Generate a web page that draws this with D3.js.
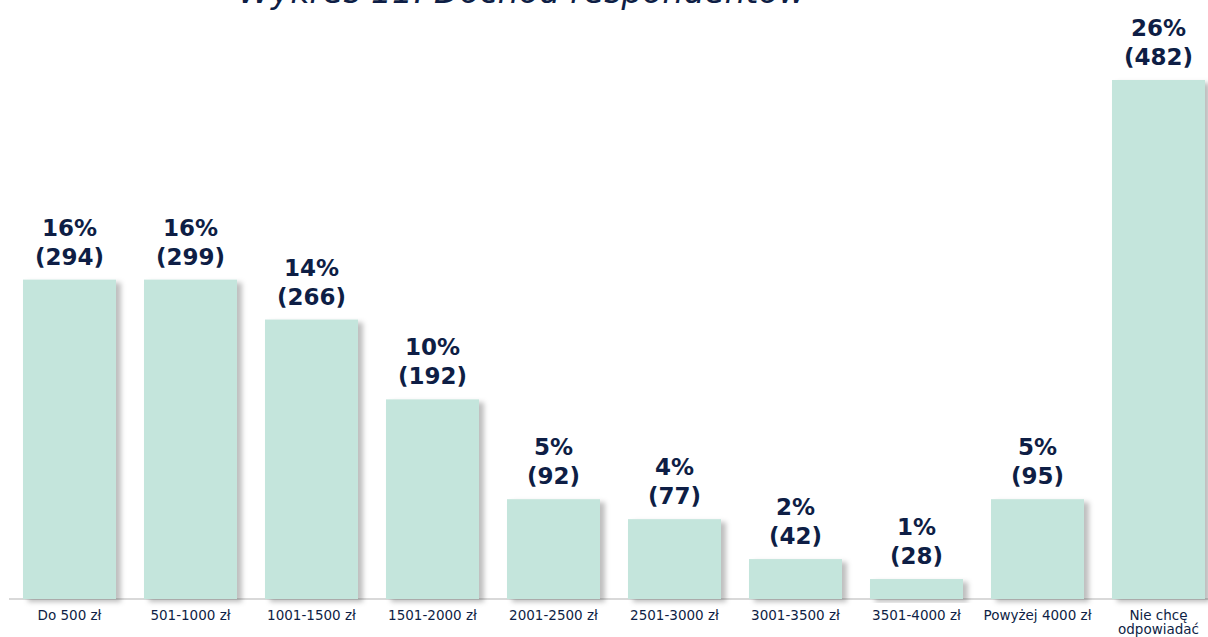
<!DOCTYPE html>
<html>
<head>
<meta charset="utf-8">
<script src="https://cdnjs.cloudflare.com/ajax/libs/d3/7.8.5/d3.min.js"></script>
<style>
  body { margin: 0; background: #fff; font-family: 'DejaVu Sans', Verdana, sans-serif; }
</style>
</head>
<body>
<script>
var categories = ["Do 500 zł", "501-1000 zł", "1001-1500 zł", "1501-2000 zł", "2001-2500 zł",
                  "2501-3000 zł", "3001-3500 zł", "3501-4000 zł", "Powyżej 4000 zł", "Nie chcę odpowiadać"];
var percents = [16, 16, 14, 10, 5, 4, 2, 1, 5, 26];
var counts = [294, 299, 266, 192, 92, 77, 42, 28, 95, 482];
var title = "Wykres 11. Dochód respondentów";

var width = 1208, height = 637;
var navy = "#0e1e45";

var svg = d3.select("body").append("svg")
  .attr("width", width)
  .attr("height", height);

var defs = svg.append("defs");
var f = defs.append("filter").attr("id", "shadow")
  .attr("x", "-10%").attr("y", "-10%").attr("width", "130%").attr("height", "130%");
f.append("feDropShadow")
  .attr("dx", 5).attr("dy", 3)
  .attr("stdDeviation", 2.5)
  .attr("flood-color", "#000")
  .attr("flood-opacity", 0.25);

var x = d3.scaleBand()
  .domain(categories)
  .range([9, 1219])
  .paddingInner(28 / 121)
  .paddingOuter(14 / 121);

var y = d3.scaleLinear()
  .domain([0, 26])
  .range([599, 80]);

var data = categories.map((c, i) => ({cat: c, pct: percents[i], n: counts[i]}));

// title, cut at the top as in the source
svg.append("text")
  .attr("x", 522)
  .attr("y", 3)
  .attr("text-anchor", "middle")
  .style("font-style", "italic")
  .style("font-size", "33px")
  .attr("fill", navy)
  .text(title);

// axis line
svg.append("line")
  .attr("x1", 9).attr("x2", 1208)
  .attr("y1", 599).attr("y2", 599)
  .attr("stroke", "#d9d9d9")
  .attr("stroke-width", 2);

svg.append("g").selectAll("rect")
  .data(data)
  .enter().append("rect")
  .attr("x", d => x(d.cat))
  .attr("y", d => y(d.pct))
  .attr("width", x.bandwidth())
  .attr("height", d => y(0) - y(d.pct))
  .attr("fill", "#c4e5dc")
  .attr("filter", "url(#shadow)");

var lab = svg.append("g").selectAll("text")
  .data(data)
  .enter().append("text")
  .attr("text-anchor", "middle")
  .style("font-weight", "bold")
  .style("font-size", "23px")
  .attr("fill", navy);
lab.append("tspan")
  .attr("x", d => x(d.cat) + x.bandwidth() / 2)
  .attr("y", d => y(d.pct) - 44)
  .text(d => d.pct + "%");
lab.append("tspan")
  .attr("x", d => x(d.cat) + x.bandwidth() / 2)
  .attr("y", d => y(d.pct) - 15)
  .text(d => "(" + d.n + ")");

// x axis labels
var xl = svg.append("g").selectAll("text")
  .data(categories)
  .enter().append("text")
  .attr("text-anchor", "middle")
  .style("font-size", "13.5px")
  .attr("fill", navy);
xl.each(function(c) {
  var parts = c === "Nie chcę odpowiadać" ? ["Nie chcę", "odpowiadać"] : [c];
  var t = d3.select(this);
  parts.forEach((p, j) => {
    t.append("tspan")
      .attr("x", x(c) + x.bandwidth() / 2)
      .attr("y", 620 + j * 14)
      .text(p);
  });
});
</script>
</body>
</html>
